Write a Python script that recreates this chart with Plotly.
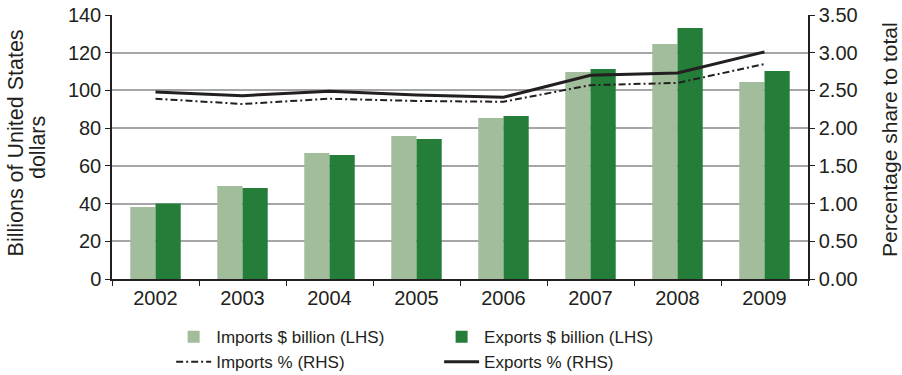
import plotly.graph_objects as go

years = ["2002", "2003", "2004", "2005", "2006", "2007", "2008", "2009"]
imports_bn = [38.2, 49.3, 66.8, 75.8, 85.4, 109.8, 124.6, 104.5]
exports_bn = [40.0, 48.2, 65.7, 74.2, 86.4, 111.4, 133.1, 110.3]
imports_pct = [2.39, 2.32, 2.39, 2.36, 2.35, 2.57, 2.60, 2.85]
exports_pct = [2.48, 2.43, 2.49, 2.44, 2.41, 2.70, 2.73, 3.01]

FONT = "Liberation Sans, Arial, sans-serif"
TXT = "#231f20"

fig = go.Figure()
fig.add_trace(go.Bar(x=years, y=imports_bn, name="Imports $ billion (LHS)",
                     marker=dict(color="#a2bd9b", line=dict(width=0)), legend="legend"))
fig.add_trace(go.Bar(x=years, y=exports_bn, name="Exports $ billion (LHS)",
                     marker=dict(color="#247e3a", line=dict(width=0)), legend="legend2"))
fig.add_trace(go.Scatter(x=years, y=imports_pct, name="Imports % (RHS)", yaxis="y2",
                         mode="lines", line=dict(color="#231f20", width=2, dash="7px,3px,2px,3px"),
                         legend="legend"))
fig.add_trace(go.Scatter(x=years, y=exports_pct, name="Exports % (RHS)", yaxis="y2",
                         mode="lines", line=dict(color="#231f20", width=3),
                         legend="legend2"))

legend_style = dict(orientation="v", yanchor="top", y=-0.152,
                    font=dict(family=FONT, size=17, color=TXT),
                    bgcolor="rgba(0,0,0,0)", tracegroupgap=0, itemwidth=35)

# rotated axis titles, one annotation per line
title_style = dict(textangle=-90, xref="paper", yref="paper",
                   xanchor="center", yanchor="middle", showarrow=False)

fig.update_layout(
    width=902, height=375,
    margin=dict(l=112, r=94, t=15, b=96, autoexpand=False),
    paper_bgcolor="white", plot_bgcolor="white",
    barmode="group", bargap=0.42, bargroupgap=0,
    font=dict(family=FONT, size=20, color=TXT),
    xaxis=dict(showline=True, linecolor="#231f20", linewidth=1.5,
               ticks="outside", ticklen=5, tickcolor="#231f20",
               tickson="boundaries", tickfont=dict(size=20), showgrid=False),
    yaxis=dict(range=[0, 140], dtick=20, showline=True, linecolor="#231f20",
               linewidth=1.5, ticks="outside", ticklen=5, tickcolor="#231f20",
               gridcolor="#a6a6a6", gridwidth=1.5, zeroline=False,
               tickfont=dict(size=20)),
    yaxis2=dict(range=[0, 3.5], dtick=0.5, tickformat=".2f", overlaying="y",
                side="right", showline=True, linecolor="#231f20", linewidth=1.5,
                ticks="outside", ticklen=5, tickcolor="#231f20", showgrid=False,
                zeroline=False, tickfont=dict(size=20)),
    legend=dict(x=0.085, xanchor="left", **legend_style),
    legend2=dict(x=0.47, xanchor="left", **legend_style),
    annotations=[
        dict(text="Billions of United States", x=-0.138, y=0.517,
             font=dict(size=21.5, color=TXT), **title_style),
        dict(text="dollars", x=-0.107, y=0.498,
             font=dict(size=21.5, color=TXT), **title_style),
        dict(text="Percentage share to total", x=1.118, y=0.527,
             font=dict(size=21, color=TXT), **title_style),
    ],
)

fig.write_html("out.html")
